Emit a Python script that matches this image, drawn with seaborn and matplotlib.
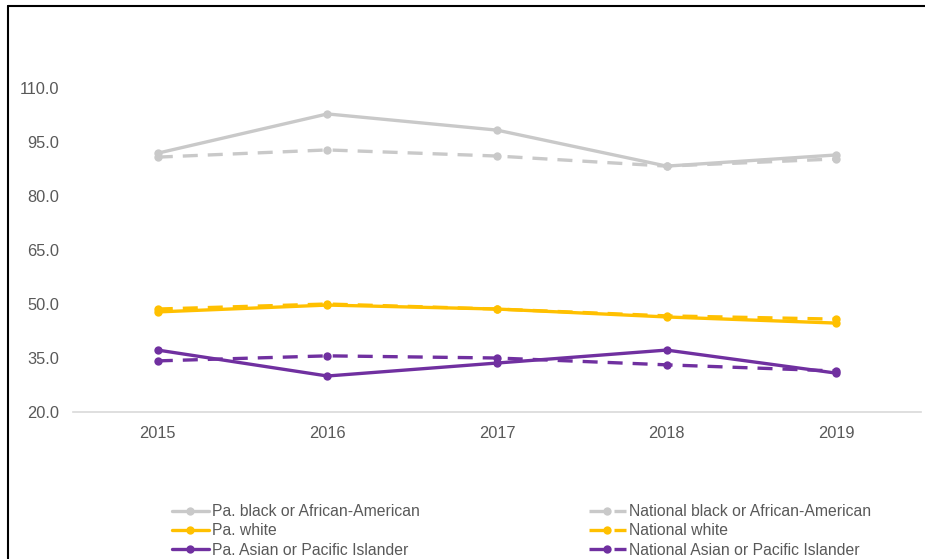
import pandas as pd
import matplotlib.pyplot as plt
import seaborn as sns
from matplotlib.lines import Line2D

# Dados
anos = ['2015', '2016', '2017', '2018', '2019']
pa_negro = [91.9, 102.8, 98.3, 88.3, 91.4]
nac_negro = [90.8, 92.8, 91.1, 88.3, 90.3]
pa_branco = [47.8, 49.7, 48.6, 46.4, 44.7]
nac_branco = [48.6, 50.0, 48.6, 46.7, 45.8]
pa_asiatico = [37.2, 30.0, 33.6, 37.2, 30.8]
nac_asiatico = [34.2, 35.6, 35.0, 33.1, 31.4]

series = [
    ('Pa. black or African-American', pa_negro, '#c9c9c9', False),
    ('Pa. white', pa_branco, '#ffc000', False),
    ('Pa. Asian or Pacific Islander', pa_asiatico, '#7030a0', False),
    ('National black or African-American', nac_negro, '#c9c9c9', True),
    ('National white', nac_branco, '#ffc000', True),
    ('National Asian or Pacific Islander', nac_asiatico, '#7030a0', True),
]

sns.set_style('white')
plt.rcParams['font.family'] = ['Liberation Sans', 'DejaVu Sans']
cor_texto = '#595959'

fig = plt.figure(figsize=(9.25, 5.59), dpi=100)
ax = fig.add_axes([73 / 925, 1 - 412 / 559, (921 - 73) / 925, (412 - 88) / 559])

# Desenha as séries (nacionais primeiro para ficarem por baixo)
handles = {}
for nome, valores, cor, tracejado in series[3:] + series[:3]:
    df = pd.DataFrame({'ano': anos, 'valor': valores})
    sns.lineplot(data=df, x='ano', y='valor', ax=ax, color=cor, linewidth=2.4,
                 marker='o', markersize=6, markeredgewidth=0,
                 dashes=False, label=nome, clip_on=False)
    linha = ax.get_lines()[-1]
    if tracejado:
        linha.set_dashes((4.5, 3))
    handles[nome] = linha

ax.set_xlim(-0.5, 4.5)
ax.set_ylim(20, 110)
ax.set_yticks([20, 35, 50, 65, 80, 95, 110])
ax.set_yticklabels([f'{v:.1f}' for v in [20, 35, 50, 65, 80, 95, 110]])
ax.set_xlabel('')
ax.set_ylabel('')
ax.tick_params(axis='both', length=0, labelsize=11.8, labelcolor=cor_texto)
ax.tick_params(axis='y', pad=10)
ax.tick_params(axis='x', pad=10)
for lado in ['top', 'right', 'left']:
    ax.spines[lado].set_visible(False)
ax.spines['bottom'].set_color('#d9d9d9')
ax.spines['bottom'].set_linewidth(1.2)
ax.get_legend().remove()

# Legendas em duas colunas
nomes = [s[0] for s in series]
for nomes_col, x0 in [(nomes[:3], 172), (nomes[3:], 589)]:
    leg = fig.legend([handles[n] for n in nomes_col], nomes_col,
                     loc='upper left', bbox_to_anchor=(x0 / 925, 1 - 504 / 559),
                     frameon=False, fontsize=11.3, handlelength=2.35,
                     handletextpad=0.2, labelspacing=0.28, borderpad=0,
                     borderaxespad=0)
    for t in leg.get_texts():
        t.set_color(cor_texto)

# Moldura (esquerda e topo)
fig.add_artist(Line2D([8 / 925, 8 / 925], [0, 1 - 6 / 559], color='black', linewidth=1.5))
fig.add_artist(Line2D([8 / 925, 1], [1 - 6 / 559, 1 - 6 / 559], color='black', linewidth=1.5))

fig.savefig('out.png', dpi=100)
